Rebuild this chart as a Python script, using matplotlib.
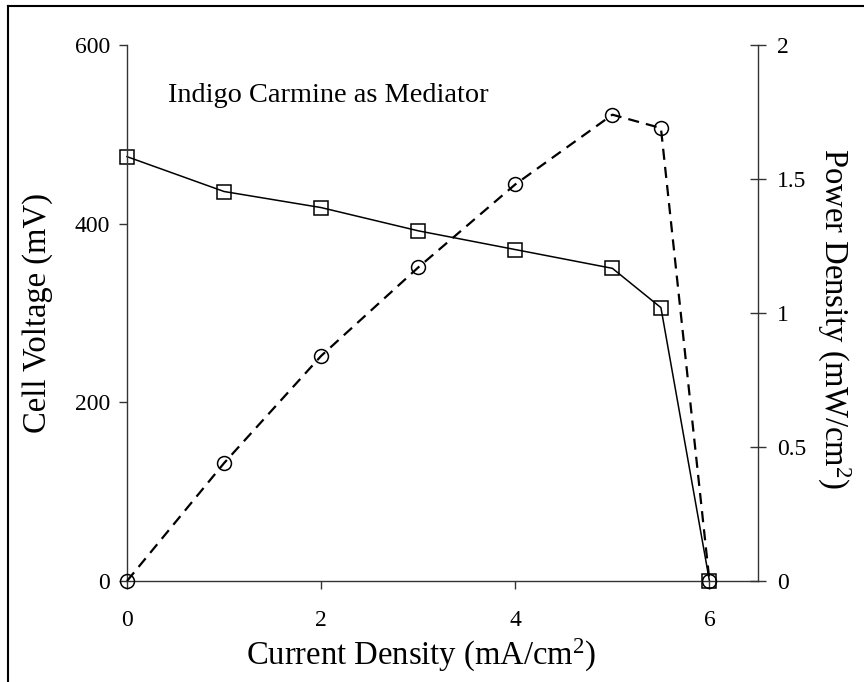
import numpy as np
from matplotlib import pyplot as plt
from matplotlib.lines import Line2D

plt.rcParams['font.family'] = ['Liberation Serif', 'DejaVu Serif']
plt.rcParams['mathtext.fontset'] = 'custom'
plt.rcParams['mathtext.rm'] = 'Liberation Serif'
plt.rcParams['mathtext.it'] = 'Liberation Serif:italic'

# data
current = [0, 1, 2, 3, 4, 5, 5.5, 6]               # mA/cm2
voltage = [475, 436, 418, 392, 371, 350, 306, 0]   # mV
power = [0, 0.44, 0.84, 1.17, 1.48, 1.74, 1.69, 0]  # mW/cm2

x_ticks = [0, 2, 4, 6]
v_ticks = [0, 200, 400, 600]
p_ticks = [0, 0.5, 1, 1.5, 2]
p_labels = ['0', '0.5', '1', '1.5', '2']

fig = plt.figure(figsize=(8.64, 6.82), dpi=100)
ax = fig.add_axes([127/864, 1-581/682, (758-127)/864, (581-45)/682])
ax2 = ax.twinx()

axcol = '#333333'

ax.plot(current, voltage, '-', color='black', lw=1.1, clip_on=False,
        marker='s', ms=10, mfc='none', mec='black', mew=1.1)
ax2.plot(current, power, '--', color='black', lw=1.6, dashes=(5, 3.2),
         clip_on=False, marker='o', ms=10, mfc='none', mec='black', mew=1.1)

ax.set_xlim(0, 6.5)
ax.set_ylim(0, 600)
ax2.set_ylim(0, 2)

ax.set_xticks(x_ticks)
ax.set_yticks(v_ticks)
ax2.set_yticks(p_ticks)
ax2.set_yticklabels(p_labels)

for s in ['top', 'right']:
    ax.spines[s].set_visible(False)
for s in ['top', 'left', 'bottom']:
    ax2.spines[s].set_visible(False)
for s in ['left', 'bottom']:
    ax.spines[s].set_color(axcol)
    ax.spines[s].set_linewidth(1)
ax2.spines['right'].set_color(axcol)
ax2.spines['right'].set_linewidth(1)

ax.tick_params(axis='both', direction='out', length=6, width=1, color=axcol,
               labelsize=17, pad=6)
ax.tick_params(axis='x', pad=15)
ax2.tick_params(axis='y', direction='inout', length=11, width=1, color=axcol,
                labelsize=17, pad=8)

ax.set_ylabel('Cell Voltage (mV)', fontsize=23.5)
ax.yaxis.set_label_coords(-0.117, 0.5)
ax.set_xlabel('Current Density (mA/cm$^{\\mathrm{2}}$)', fontsize=23.5, va='center')
ax.xaxis.set_label_coords(0.466, -0.138)
ax2.set_ylabel('Power Density (mW/cm$^{\\mathrm{2}}$)', fontsize=23.5,
               rotation=270, va='center')
ax2.yaxis.set_label_coords(1.12, 0.49)

ax.text(0.065, 0.905, 'Indigo Carmine as Mediator', transform=ax.transAxes,
        fontsize=20.4, va='center', ha='left')

# outer frame (top and left edges only)
fig.add_artist(Line2D([8/864, 1], [1-6/682, 1-6/682], color='black', lw=1.5,
                      transform=fig.transFigure))
fig.add_artist(Line2D([8/864, 8/864], [0, 1-6/682], color='black', lw=1.5,
                      transform=fig.transFigure))

fig.savefig('out.png', dpi=100)
